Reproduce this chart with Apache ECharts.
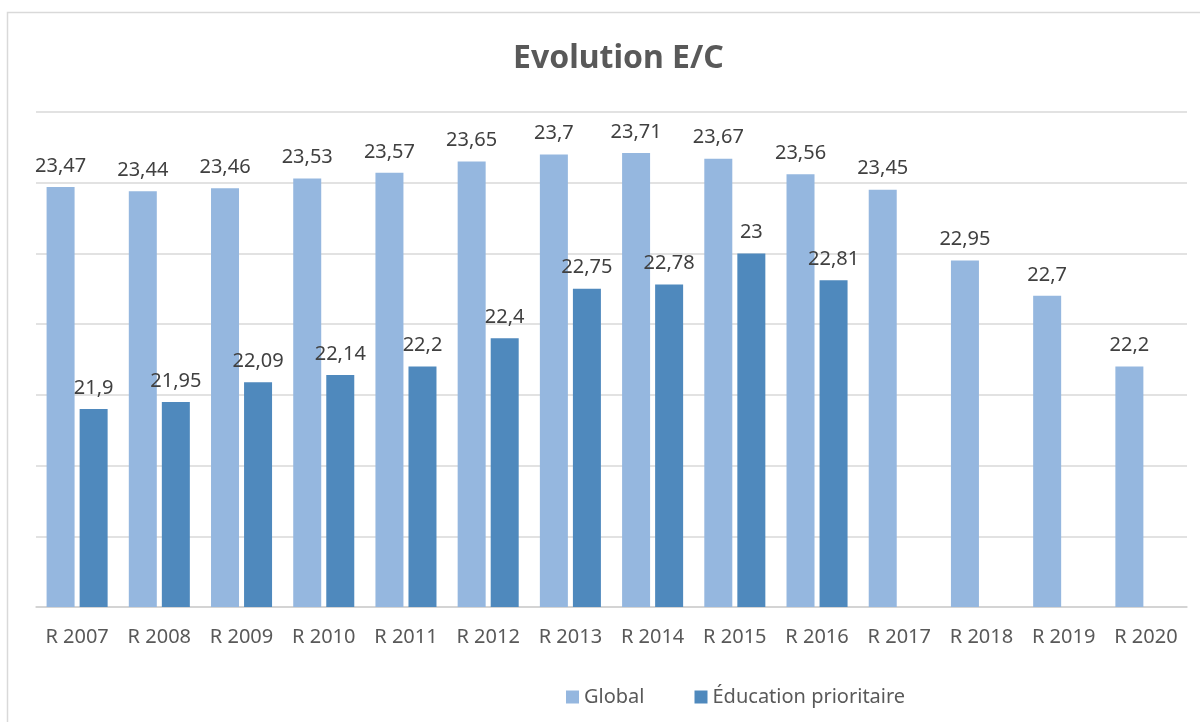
<!DOCTYPE html>
<html>
<head>
<meta charset="utf-8">
<script src="https://cdn.jsdelivr.net/npm/echarts@6/dist/echarts.min.js"></script>
<style>
  html, body { margin: 0; padding: 0; background: #fff; }
  #chart { width: 1200px; height: 722px; }
</style>
</head>
<body>
<div id="chart"></div>
<script>
// Chart data
const years = ['R 2007', 'R 2008', 'R 2009', 'R 2010', 'R 2011', 'R 2012', 'R 2013',
               'R 2014', 'R 2015', 'R 2016', 'R 2017', 'R 2018', 'R 2019', 'R 2020'];
const globalValues = [23.47, 23.44, 23.46, 23.53, 23.57, 23.65, 23.7, 23.71, 23.67, 23.56, 23.45, 22.95, 22.7, 22.2];
const prioritaireValues = [21.9, 21.95, 22.09, 22.14, 22.2, 22.4, 22.75, 22.78, 23, 22.81, null, null, null, null];
const seriesNames = ['Global', 'Éducation prioritaire'];

const FONT = 'Noto Sans';
const frLabel = p => String(p.value).replace('.', ',');

const chart = echarts.init(document.getElementById('chart'));

chart.setOption({
    animation: false,
    textStyle: { fontFamily: FONT },
    title: {
        text: 'Evolution E/C',
        left: 508,
        top: 38,
        textStyle: { fontSize: 32, fontWeight: 'bold', color: '#595959', fontFamily: FONT }
    },
    graphic: [{
        type: 'rect',
        shape: { x: 7.5, y: 12.5, width: 1210, height: 730 },
        style: { fill: 'none', stroke: '#d9d9d9', lineWidth: 1.5 },
        silent: true
    }],
    legend: {
        data: seriesNames,
        bottom: 10,
        left: 561,
        icon: 'rect',
        itemWidth: 13,
        itemHeight: 13,
        itemGap: 50,
        textStyle: { fontSize: 20, color: '#595959', fontFamily: FONT }
    },
    grid: { left: 36, right: 13, top: 112, bottom: 115 },
    xAxis: {
        type: 'category',
        data: years,
        axisLine: { lineStyle: { color: '#d0d0d0', width: 1.5 } },
        axisTick: { show: false },
        axisLabel: { fontSize: 20, color: '#595959', margin: 20, interval: 0 }
    },
    yAxis: {
        type: 'value',
        min: 20.5,
        max: 24,
        interval: 0.5,
        axisLabel: { show: false },
        axisLine: { show: false },
        axisTick: { show: false },
        splitLine: { lineStyle: { color: '#d9d9d9', width: 1.5 } }
    },
    series: [
        {
            name: seriesNames[0],
            type: 'bar',
            data: globalValues,
            barWidth: 28,
            barGap: '18%',
            itemStyle: { color: '#95b7df' },
            label: {
                show: true, position: 'top', distance: 11,
                formatter: frLabel,
                fontSize: 20, color: '#404040', fontFamily: FONT
            }
        },
        {
            name: seriesNames[1],
            type: 'bar',
            data: prioritaireValues,
            barWidth: 28,
            itemStyle: { color: '#4f89bd' },
            label: {
                show: true, position: 'top', distance: 11,
                formatter: frLabel,
                fontSize: 20, color: '#404040', fontFamily: FONT
            }
        }
    ]
});
</script>
</body>
</html>
